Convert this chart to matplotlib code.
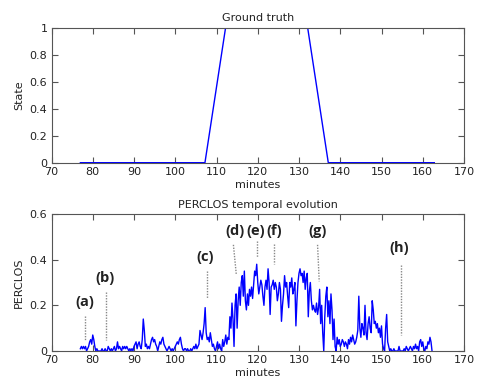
import numpy as np
import matplotlib
matplotlib.use("Agg")
import matplotlib.pyplot as plt

# Ground truth
gt_minutes = [77, 107.2, 112.2, 132.1, 137.1, 162.8]
gt_state = [0, 0, 1, 1, 0, 0]

# PERCLOS sampled every 0.25 min starting at 77
perclos_start = 77.0
perclos_step = 0.25
perclos = [
    0.01, 0.02, 0.01, 0.02,  0.01, 0.02, 0.00, 0.01,  # 77-78
    0.02, 0.04, 0.05, 0.03,  0.07, 0.05, 0.02, 0.00,  # 79-80
    0.01, 0.00, 0.00, 0.00,  0.00, 0.01, 0.00, 0.00,  # 81-82
    0.01, 0.00, 0.00, 0.02,  0.01, 0.00, 0.01, 0.00,  # 83-84
    0.01, 0.02, 0.00, 0.01,  0.04, 0.01, 0.02, 0.01,  # 85-86
    0.00, 0.02, 0.01, 0.02,  0.01, 0.02, 0.01, 0.00,  # 87-88
    0.01, 0.00, 0.01, 0.00,  0.02, 0.03, 0.04, 0.01,  # 89-90
    0.03, 0.04, 0.02, 0.01,  0.05, 0.14, 0.09, 0.02,  # 91-92
    0.03, 0.01, 0.02, 0.01,  0.03, 0.05, 0.06, 0.04,  # 93-94
    0.05, 0.03, 0.02, 0.00,  0.02, 0.04, 0.03, 0.05,  # 95-96
    0.06, 0.03, 0.02, 0.01,  0.00, 0.01, 0.02, 0.01,  # 97-98
    0.00, 0.01, 0.00, 0.01,  0.02, 0.03, 0.04, 0.03,  # 99-100
    0.05, 0.06, 0.03, 0.01,  0.00, 0.01, 0.01, 0.00,  # 101-102
    0.01, 0.00, 0.00, 0.01,  0.00, 0.01, 0.02, 0.01,  # 103-104
    0.03, 0.01, 0.02, 0.03,  0.09, 0.07, 0.05, 0.08,  # 105-106
    0.12, 0.19, 0.08, 0.05,  0.06, 0.04, 0.08, 0.05,  # 107-108
    0.02, 0.03, 0.01, 0.00,  0.02, 0.04, 0.01, 0.03,  # 109-110
    0.01, 0.00, 0.05, 0.02,  0.04, 0.07, 0.03, 0.06,  # 111-112
    0.05, 0.15, 0.10, 0.21,  0.14, 0.02, 0.20, 0.25,  # 113-114
    0.10, 0.22, 0.28, 0.20,  0.30, 0.33, 0.24, 0.35,  # 115-116
    0.22, 0.18, 0.25, 0.20,  0.27, 0.24, 0.28, 0.23,  # 117-118
    0.29, 0.35, 0.33, 0.38,  0.30, 0.25, 0.28, 0.31,  # 119-120
    0.29, 0.24, 0.20, 0.28,  0.31, 0.27, 0.36, 0.30,  # 121-122
    0.16, 0.28, 0.29, 0.31,  0.27, 0.30, 0.28, 0.22,  # 123-124
    0.25, 0.30, 0.27, 0.13,  0.20, 0.25, 0.33, 0.28,  # 125-126
    0.30, 0.24, 0.19, 0.30,  0.28, 0.32, 0.25, 0.27,  # 127-128
    0.30, 0.11, 0.22, 0.30,  0.34, 0.36, 0.33, 0.34,  # 129-130
    0.30, 0.35, 0.27, 0.32,  0.34, 0.15, 0.26, 0.30,  # 131-132
    0.22, 0.18, 0.20, 0.18,  0.17, 0.21, 0.16, 0.19,  # 133-134
    0.27, 0.12, 0.20, 0.08,  0.00, 0.15, 0.24, 0.28,  # 135-136
    0.15, 0.22, 0.12, 0.25,  0.18, 0.05, 0.14, 0.02,  # 137-138
    0.00, 0.06, 0.03, 0.05,  0.02, 0.03, 0.05, 0.04,  # 139-140
    0.02, 0.04, 0.03, 0.01,  0.05, 0.03, 0.06, 0.04,  # 141-142
    0.07, 0.05, 0.03, 0.04,  0.06, 0.09, 0.24, 0.10,  # 143-144
    0.06, 0.12, 0.10, 0.07,  0.20, 0.08, 0.05, 0.12,  # 145-146
    0.15, 0.10, 0.08, 0.22,  0.18, 0.12, 0.13, 0.10,  # 147-148
    0.12, 0.08, 0.10, 0.06,  0.11, 0.03, 0.01, 0.00,  # 149-150
    0.10, 0.16, 0.04, 0.02,  0.00, 0.01, 0.00, 0.00,  # 151-152
    0.01, 0.00, 0.00, 0.00,  0.00, 0.02, 0.00, 0.00,  # 153-154
    0.00, 0.00, 0.01, 0.00,  0.02, 0.01, 0.00, 0.01,  # 155-156
    0.02, 0.01, 0.00, 0.02,  0.01, 0.03, 0.01, 0.02,  # 157-158
    0.00, 0.04, 0.05, 0.02,  0.04, 0.01, 0.00, 0.02,  # 159-160
    0.01, 0.04, 0.03, 0.06,  0.04, 0.00,              # 161-162
]

# Annotation labels and their dotted leader lines
ann_labels = ["(a)", "(b)", "(c)", "(d)", "(e)", "(f)", "(g)", "(h)"]
ann_text_x = [78.1, 82.9, 107.3, 114.4, 119.6, 124.0, 134.5, 154.3]
ann_text_y = [0.215, 0.32, 0.41, 0.525, 0.525, 0.525, 0.525, 0.45]
ann_line_x0 = [78.1, 83.1, 107.7, 114.1, 119.8, 124.0, 134.5, 154.7]
ann_line_y0 = [0.155, 0.26, 0.35, 0.465, 0.48, 0.47, 0.465, 0.375]
ann_line_x1 = [78.1, 83.1, 107.7, 114.8, 119.8, 124.0, 134.9, 154.7]
ann_line_y1 = [0.05, 0.05, 0.23, 0.335, 0.41, 0.38, 0.305, 0.07]

xticks = [70, 80, 90, 100, 110, 120, 130, 140, 150, 160, 170]

W, H = 478, 378
fig = plt.figure(figsize=(W / 100, H / 100), dpi=100)
plt.rcParams['font.family'] = ['DejaVu Sans']

frame_col = '#555555'

def style(ax):
    for s in ax.spines.values():
        s.set_color(frame_col)
        s.set_linewidth(0.8)
    ax.tick_params(direction='in', length=4, width=0.8, colors=frame_col,
                   labelcolor='#222222', labelsize=8, top=True, right=True, pad=3)
    ax.set_xlim(70, 170)
    ax.set_xticks(xticks)

def fmt(v):
    return f"{v:g}"

ax1 = fig.add_axes([51.5 / W, 1 - 162.7 / H, (464 - 51.5) / W, (162.7 - 27.7) / H])
ax1.plot(gt_minutes, gt_state, color='blue', lw=1.0)
style(ax1)
ax1.set_ylim(0, 1)
yt1 = [0, 0.2, 0.4, 0.6, 0.8, 1]
ax1.set_yticks(yt1)
ax1.set_yticklabels([fmt(v) for v in yt1])
ax1.set_title("Ground truth", fontsize=8, pad=5, color='#222222')
ax1.set_xlabel("minutes", fontsize=8, labelpad=2, color='#222222')
ax1.set_ylabel("State", fontsize=8, labelpad=4, color='#222222')

ax2 = fig.add_axes([51.5 / W, 1 - 351 / H, (464 - 51.5) / W, (351 - 214) / H])
t = perclos_start + perclos_step * np.arange(len(perclos))
ax2.plot(t, perclos, color='blue', lw=1.0)
style(ax2)
ax2.set_ylim(0, 0.6)
yt2 = [0, 0.2, 0.4, 0.6]
ax2.set_yticks(yt2)
ax2.set_yticklabels([fmt(v) for v in yt2])
ax2.set_title("PERCLOS temporal evolution", fontsize=8, pad=4, color='#222222')
ax2.set_xlabel("minutes", fontsize=8, labelpad=2, color='#222222')
ax2.set_ylabel("PERCLOS", fontsize=8, labelpad=4, color='#222222')

for i, lab in enumerate(ann_labels):
    ax2.text(ann_text_x[i], ann_text_y[i], lab, fontsize=10.5, fontweight='bold',
             family=['Open Sans', 'DejaVu Sans'],
             ha='center', va='center', color='#222222')
    ax2.plot([ann_line_x0[i], ann_line_x1[i]], [ann_line_y0[i], ann_line_y1[i]],
             color='#888888', lw=1.0, ls=(0, (1, 1)))

fig.savefig("out.png", dpi=100)
